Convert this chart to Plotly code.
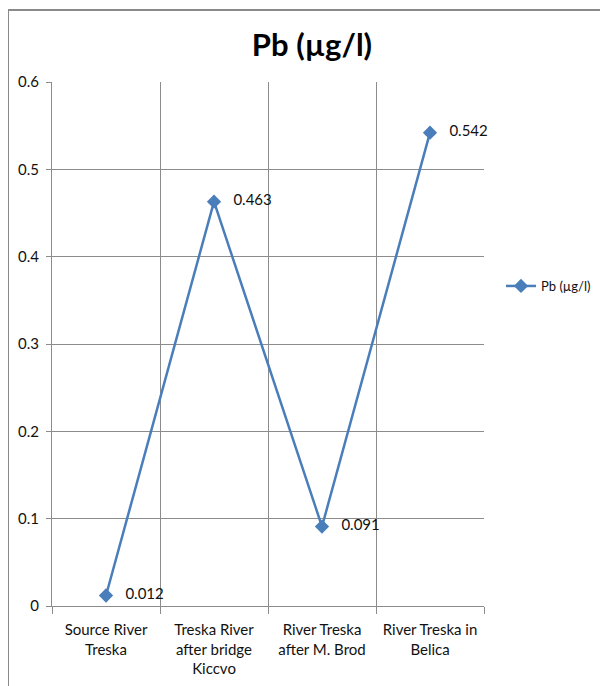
import plotly.graph_objects as go

categories = ["Source River<br>Treska", "Treska River<br>after bridge<br>Kiccvo",
              "River Treska<br>after M. Brod", "River Treska in<br>Belica"]
pb_values = [0.012, 0.463, 0.091, 0.542]
pb_labels = ["0.012", "0.463", "0.091", "0.542"]
series_name = "Pb (µg/l)"
chart_title = "Pb (µg/l)"

FONT = "Lato, 'Open Sans', sans-serif"
GRID = "#8c8c8c"
OFF = 8  # browser body margin
W, H = 608 - OFF, 686 - OFF
L, R, T, B = 52 - OFF, 124, 82 - OFF, 80
pw, ph = W - L - R, H - T - B

def px_x(px):
    return (px - OFF - L) / pw

def px_y(py):
    return (H - B - (py - OFF)) / ph

fig = go.Figure()
fig.add_trace(go.Scatter(
    x=categories, y=pb_values, mode="lines+markers+text",
    name=series_name, text=["   " + s for s in pb_labels], textposition="middle right",
    textfont=dict(size=15, color="#111", family=FONT),
    line=dict(color="#4a7ebb", width=2.5),
    marker=dict(symbol="diamond", size=11, color="#4a7ebb"),
    cliponaxis=False,
))

fig.update_layout(
    width=W, height=H,
    margin=dict(l=L, r=R, t=T, b=B, autoexpand=False),
    paper_bgcolor="white", plot_bgcolor="white",
    font=dict(family=FONT, size=15, color="#111"),
    title=dict(text="<b>" + chart_title + "</b>", x=(312 - OFF) / W, xanchor="center",
               y=1 - (45 - OFF) / H, yanchor="middle",
               font=dict(size=31, family=FONT, color="#000")),
    showlegend=True,
    legend=dict(x=px_x(501), y=px_y(286), xanchor="left", yanchor="middle",
                font=dict(size=13, family=FONT, color="#111"),
                bgcolor="rgba(0,0,0,0)", itemwidth=30),
    xaxis=dict(type="category", tickson="boundaries", showgrid=True,
               gridcolor=GRID, gridwidth=1, showline=True, linecolor=GRID,
               ticks="outside", ticklen=7, tickcolor=GRID,
               ticklabelstandoff=10, automargin=False,
               tickfont=dict(size=15, family=FONT, color="#111"),
               range=[-0.5, 3.5], zeroline=False),
    yaxis=dict(range=[0, 0.6], dtick=0.1, showgrid=True, gridcolor=GRID,
               gridwidth=1, showline=True, linecolor=GRID, ticks="outside",
               ticklen=5, tickcolor=GRID, zeroline=False,
               ticklabelstandoff=4, automargin=False,
               tickfont=dict(size=15, family=FONT, color="#111")),
    shapes=[
        dict(type="line", xref="paper", yref="paper",
             x0=px_x(8), x1=px_x(612), y0=px_y(10), y1=px_y(10),
             line=dict(color="#8a8a8a", width=2)),
        dict(type="line", xref="paper", yref="paper",
             x0=px_x(8), x1=px_x(8), y0=px_y(10), y1=px_y(690),
             line=dict(color="#8a8a8a", width=2)),
    ],
)

fig.write_html("out.html")
